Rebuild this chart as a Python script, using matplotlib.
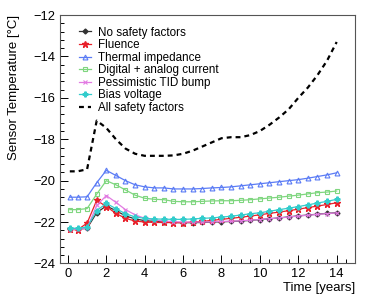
import numpy as np
import matplotlib
matplotlib.use("Agg")
import matplotlib.pyplot as plt
from matplotlib.ticker import MultipleLocator

plt.rcParams['font.family'] = ['Liberation Sans', 'DejaVu Sans']

# time points [years]
t = [0.1, 0.5, 1.0, 1.5, 2.0, 2.5, 3.0, 3.5, 4.0, 4.5, 5.0, 5.5, 6.0, 6.5, 7.0,
     7.5, 8.0, 8.5, 9.0, 9.5, 10.0, 10.5, 11.0, 11.5, 12.0, 12.5, 13.0, 13.5, 14.0]

no_safety = [-22.35, -22.35, -22.30, -21.55, -21.22, -21.45, -21.70, -21.85, -21.93, -21.97,
             -22.00, -22.02, -22.03, -22.03, -22.02, -22.00, -21.99, -21.97, -21.95, -21.92,
             -21.88, -21.84, -21.80, -21.75, -21.70, -21.66, -21.62, -21.58, -21.55]
fluence = [-22.35, -22.38, -22.05, -20.95, -21.25, -21.58, -21.82, -21.95, -22.00, -22.02,
           -22.02, -22.03, -22.03, -22.00, -21.97, -21.92, -21.87, -21.82, -21.77, -21.71,
           -21.65, -21.58, -21.52, -21.45, -21.38, -21.30, -21.23, -21.15, -21.07]
thermal = [-20.80, -20.80, -20.78, -20.10, -19.50, -19.75, -20.00, -20.20, -20.30, -20.35,
           -20.35, -20.40, -20.40, -20.40, -20.38, -20.35, -20.33, -20.30, -20.25, -20.20,
           -20.15, -20.10, -20.05, -20.00, -19.95, -19.88, -19.80, -19.72, -19.62]
digital = [-21.40, -21.40, -21.35, -20.65, -20.00, -20.20, -20.45, -20.70, -20.85, -20.90,
           -20.92, -21.00, -21.02, -21.02, -21.00, -20.98, -20.97, -20.97, -20.95, -20.92,
           -20.88, -20.84, -20.80, -20.75, -20.70, -20.64, -20.58, -20.55, -20.50]
tid_bump = [-22.35, -22.35, -22.30, -21.20, -20.72, -21.05, -21.40, -21.65, -21.82, -21.90,
            -21.95, -21.98, -22.00, -22.00, -22.00, -21.99, -21.97, -21.96, -21.94, -21.91,
            -21.88, -21.84, -21.80, -21.76, -21.71, -21.67, -21.63, -21.59, -21.56]
bias = [-22.30, -22.30, -22.25, -21.45, -21.10, -21.35, -21.60, -21.75, -21.82, -21.85,
        -21.86, -21.87, -21.87, -21.85, -21.82, -21.80, -21.76, -21.72, -21.66, -21.60,
        -21.55, -21.48, -21.40, -21.33, -21.25, -21.17, -21.08, -21.00, -20.90]
all_safety = [-19.55, -19.55, -19.45, -17.10, -17.45, -18.00, -18.45, -18.70, -18.80, -18.80,
              -18.80, -18.78, -18.70, -18.55, -18.35, -18.15, -17.95, -17.90, -17.90, -17.80,
              -17.60, -17.30, -16.95, -16.55, -16.00, -15.50, -14.90, -14.20, -13.30]

fig = plt.figure(figsize=(3.74, 2.96), dpi=100)
ax = fig.add_axes([0.160, 0.110, 0.789, 0.839])

ax.plot(t, no_safety, color='#333333', marker='D', ms=2.5, lw=0.9, label='No safety factors')
ax.plot(t, fluence, color='#e8202a', marker='*', ms=4.5, lw=0.9, label='Fluence')
ax.plot(t, thermal, color='#5b7cf5', marker='^', ms=3.5, mfc='none', mew=0.8, lw=0.9,
        label='Thermal impedance')
ax.plot(t, digital, color='#7fd67f', marker='s', ms=3.2, mfc='none', mew=0.8, lw=0.9,
        label='Digital + analog current')
ax.plot(t, tid_bump, color='#e27be2', marker='x', ms=3.2, mew=0.8, lw=0.9,
        label='Pessimistic TID bump')
ax.plot(t, bias, color='#33cccc', marker='P', ms=3.5, lw=0.9, label='Bias voltage')
ax.plot(t, all_safety, color='black', ls=(0, (2.2, 1.8)), lw=1.6, label='All safety factors')

ax.set_xlim(-0.42, 14.95)
ax.set_ylim(-24, -12)
ax.xaxis.set_major_locator(MultipleLocator(2))
ax.xaxis.set_minor_locator(MultipleLocator(0.5))
ax.yaxis.set_major_locator(MultipleLocator(2))
ax.yaxis.set_minor_locator(MultipleLocator(0.4))
ax.tick_params(which='both', direction='in', top=False, right=False, labelsize=9.3, width=0.7)
ax.tick_params(which='major', length=6)
ax.tick_params(which='minor', length=3)
for s in ax.spines.values():
    s.set_linewidth(0.8)
    s.set_color('#555555')

ax.set_xlabel('Time [years]', fontsize=9.5, loc='right', labelpad=1)
ax.set_ylabel('Sensor Temperature [°C]', fontsize=9.5, loc='top', labelpad=9)

ax.legend(loc='upper left', bbox_to_anchor=(0.2, 0.926), bbox_transform=fig.transFigure,
          frameon=False, fontsize=8.4, handlelength=1.0, handletextpad=0.6,
          labelspacing=0.05, borderaxespad=0)

fig.savefig('out.png', dpi=100)
